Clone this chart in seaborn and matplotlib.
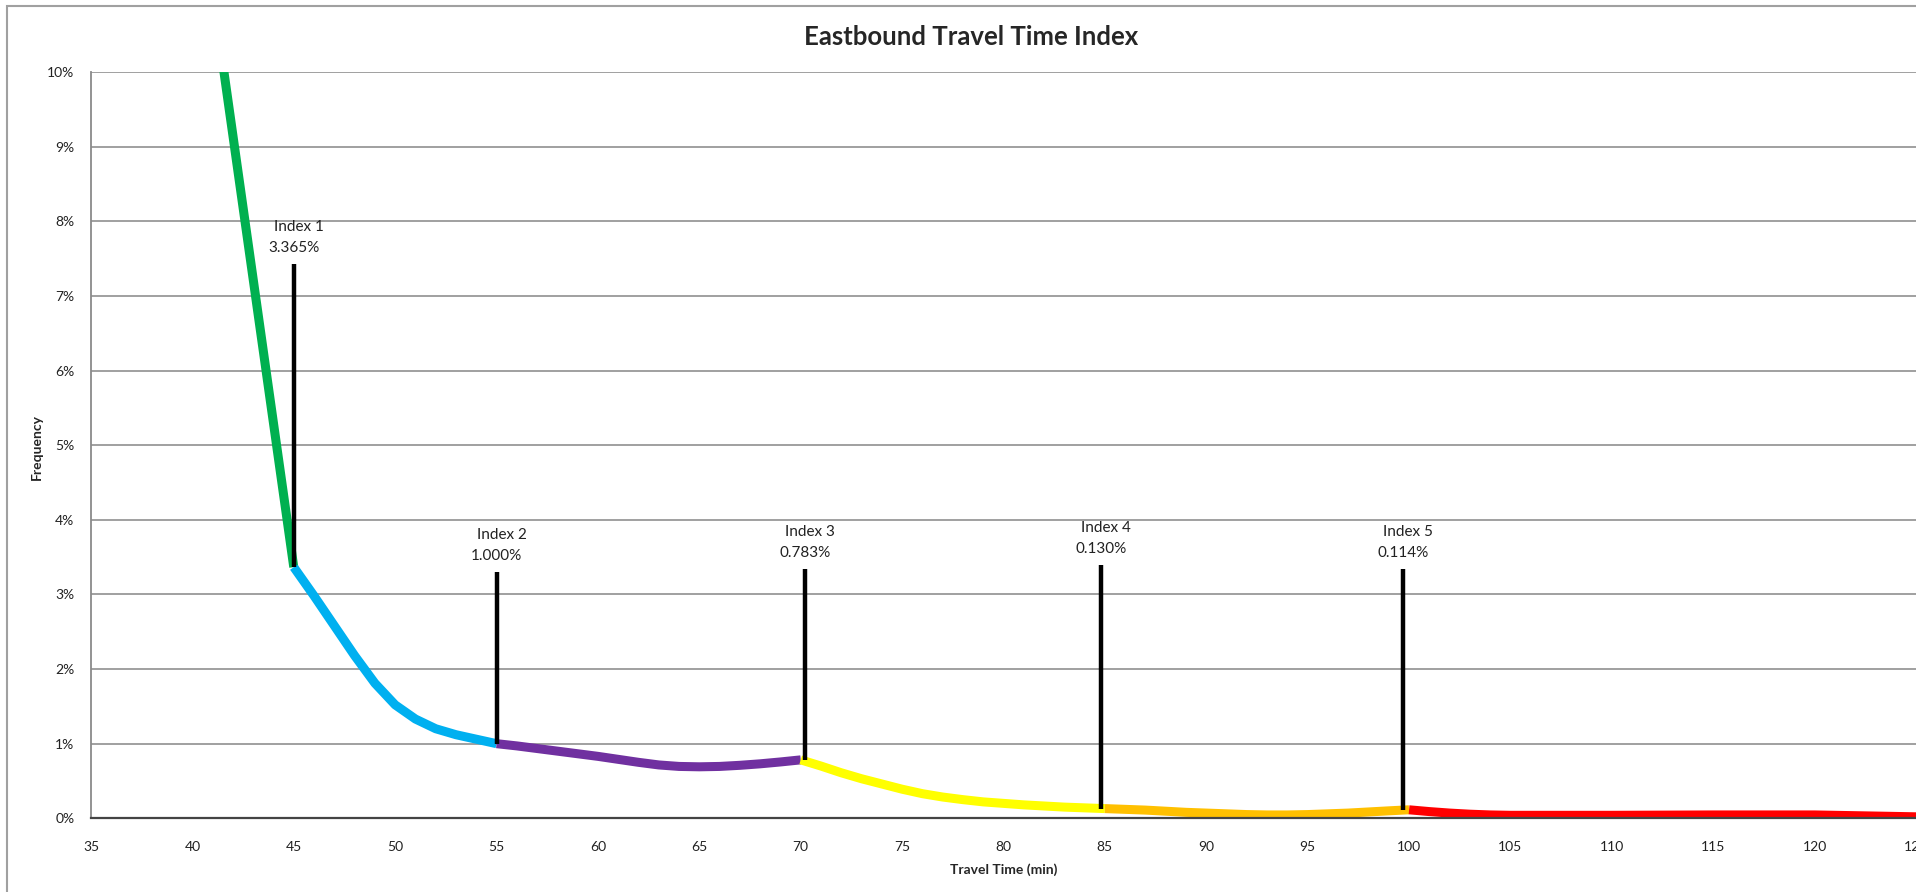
import matplotlib
matplotlib.use("Agg")
import matplotlib.pyplot as plt
import pandas as pd
import seaborn as sns
from matplotlib.patches import Rectangle
from matplotlib.ticker import FuncFormatter, MultipleLocator

# travel time (min) and frequency (%) for each colour band of the curve
green_x = [40, 45]
green_y = [13.0, 3.365]
blue_x = [45, 46, 47, 48, 49, 50, 51, 52, 53, 54, 55]
blue_y = [3.365, 2.98, 2.58, 2.18, 1.81, 1.52, 1.33, 1.20, 1.12, 1.06, 1.000]
purple_x = [55, 56, 57, 58, 59, 60, 61, 62, 63, 64, 65, 66, 67, 68, 69, 70]
purple_y = [1.000, 0.97, 0.935, 0.90, 0.865, 0.83, 0.79, 0.75, 0.715, 0.695,
            0.69, 0.695, 0.71, 0.73, 0.755, 0.783]
yellow_x = [70, 71, 72, 73, 74, 75, 76, 77, 78, 79, 80, 81, 82, 83, 84, 85]
yellow_y = [0.783, 0.70, 0.61, 0.53, 0.46, 0.39, 0.33, 0.285, 0.25, 0.22,
            0.20, 0.18, 0.165, 0.15, 0.14, 0.130]
orange_x = [85, 86, 87, 88, 89, 90, 91, 92, 93, 94, 95, 96, 97, 98, 99, 100]
orange_y = [0.130, 0.12, 0.11, 0.095, 0.08, 0.07, 0.06, 0.05, 0.045, 0.045,
            0.05, 0.06, 0.07, 0.085, 0.10, 0.114]
red_x = [100, 101, 102, 103, 104, 105, 110, 115, 120, 125]
red_y = [0.114, 0.09, 0.07, 0.055, 0.045, 0.04, 0.04, 0.045, 0.045, 0.02]

band_names = ["green", "blue", "purple", "yellow", "orange", "red"]
band_colors = ["#00B050", "#00B0F0", "#7030A0", "#FFFF00", "#FFC000", "#FF0000"]

# index markers
index_x = [45, 55, 70.2, 84.8, 99.7]
index_val = [3.365, 1.000, 0.783, 0.130, 0.114]
index_top = [7.43, 3.30, 3.34, 3.39, 3.34]
index_labels = ["Index 1", "Index 2", "Index 3", "Index 4", "Index 5"]

bands = [(green_x, green_y), (blue_x, blue_y), (purple_x, purple_y),
         (yellow_x, yellow_y), (orange_x, orange_y), (red_x, red_y)]
df = pd.concat(
    [pd.DataFrame({"time": bx, "freq": by, "band": name})
     for name, (bx, by) in zip(band_names, bands)],
    ignore_index=True,
)

sns.set_theme(style="white")
plt.rcParams["font.family"] = ["Lato", "DejaVu Sans"]

fig = plt.figure(figsize=(19.16, 8.92), dpi=100)
ax = fig.add_axes([91 / 1916, 73.7 / 892, 1 - 91 / 1916, (818.3 - 72) / 892])

sns.lineplot(
    data=df, x="time", y="freq", hue="band", palette=dict(zip(band_names, band_colors)),
    linewidth=6.5, legend=False, ax=ax, sort=False, solid_capstyle="butt",
)

ax.vlines(index_x, index_val, index_top, color="black", linewidth=3.2, zorder=5)
for x, v, top, lab in zip(index_x, index_val, index_top, index_labels):
    ax.text(x, top + 0.12, f"{v:.3f}%", ha="center", va="bottom", fontsize=11, color="#222222")
    ax.text(x + 0.25, top + 0.40, lab, ha="center", va="bottom", fontsize=11, color="#222222")

ax.set_xlim(35, 125)
ax.set_ylim(0, 10)
ax.xaxis.set_major_locator(MultipleLocator(5))
ax.yaxis.set_major_locator(MultipleLocator(1))
ax.yaxis.set_major_formatter(FuncFormatter(lambda v, _: f"{v:.0f}%"))
ax.grid(axis="y", color="#999999", linewidth=1.3)
ax.set_axisbelow(True)
ax.tick_params(axis="both", length=0, labelsize=10, colors="#222222")
ax.tick_params(axis="x", pad=16)
ax.tick_params(axis="y", pad=12)

for side in ["top", "right"]:
    ax.spines[side].set_visible(False)
ax.spines["left"].set_color("#8a8a8a")
ax.spines["left"].set_linewidth(1.3)
ax.spines["bottom"].set_color("#444444")
ax.spines["bottom"].set_linewidth(1.6)

ax.set_xlabel("Travel Time (min)", fontsize=10, fontweight="bold", labelpad=8)
ax.set_ylabel("")
fig.text(37 / 1916, 1 - 447 / 892, "Frequency", rotation=90, ha="center", va="center",
         fontsize=10, fontweight="bold")
fig.text(971 / 1916, 1 - 37 / 892, "Eastbound Travel Time Index",
         ha="center", va="center", fontsize=18.5, fontweight="bold")

# outer chart border (cut off at the right and bottom edges)
fig.patches.append(Rectangle((7 / 1916, -0.1), 1.2, 1 - 6 / 892 + 0.1,
                             transform=fig.transFigure, fill=False,
                             edgecolor="#a0a0a0", linewidth=1.5))

fig.savefig("out.png", dpi=100)
